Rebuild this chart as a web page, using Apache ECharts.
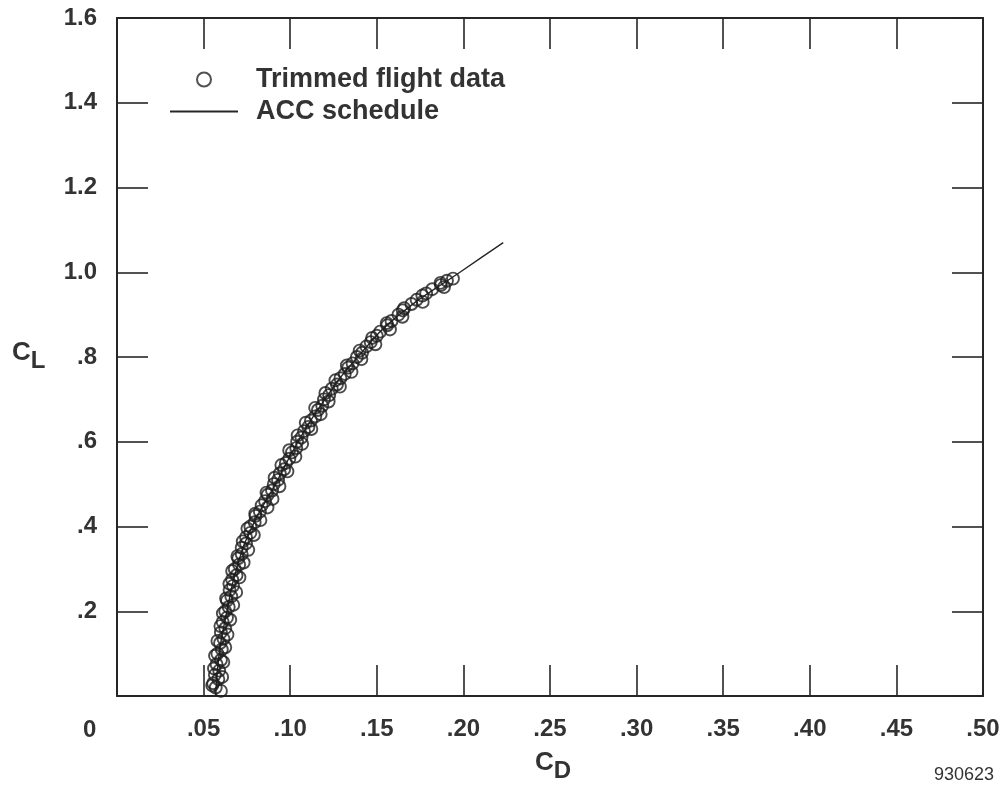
<!DOCTYPE html>
<html>
<head>
<meta charset="utf-8">
<script src="https://cdn.jsdelivr.net/npm/echarts@6/dist/echarts.min.js"></script>
<style>
html,body{margin:0;padding:0;background:#fff;}
#chart{width:1003px;height:790px;}
</style>
</head>
<body>
<div id="chart"></div>
<script>
// ACC schedule (line): CD vs CL
const scheduleCD = [0.057, 0.059, 0.0635, 0.069, 0.078, 0.0915, 0.1045, 0.120, 0.139, 0.163, 0.198, 0.223];
const scheduleCL = [0.0, 0.1, 0.2, 0.3, 0.4, 0.5, 0.6, 0.7, 0.8, 0.9, 1.0, 1.07];

// Trimmed flight data (circles)
const flightCD = [0.0570,0.0555,0.0585,0.0565,0.0590,0.0575,0.0600,0.0580,0.0605,0.0595,
  0.0615,0.0600,0.0625,0.0610,0.0635,0.0625,0.0645,0.0635,0.0660,0.0650,
  0.0670,0.0665,0.0690,0.0680,0.0705,0.0700,0.0720,0.0720,0.0745,0.0745,
  0.0770,0.0770,0.0795,0.0800,0.0825,0.0835,0.0855,0.0870,0.0895,0.0905,
  0.0930,0.0940,0.0965,0.0975,0.0995,0.1010,0.1035,0.1040,0.1065,0.1080,
  0.1105,0.1120,0.1145,0.1160,0.1185,0.1195,0.1225,0.1240,0.1270,0.1290,
  0.1315,0.1335,0.1360,0.1385,0.1415,0.1440,0.1465,0.1500,0.1520,0.1560,
  0.1585,0.1625,0.1650,0.1700,0.1730,0.1785,0.1820,0.1870,0.1905,0.1940,
  0.0600,0.0550,0.0607,0.0560,0.0614,0.0566,0.0625,0.0580,0.0638,0.0597,
  0.0654,0.0611,0.0671,0.0630,0.0688,0.0649,0.0707,0.0665,0.0731,0.0695,
  0.0758,0.0726,0.0790,0.0753,0.0828,0.0798,0.0869,0.0898,0.0863,0.0938,
  0.0910,0.0984,0.0949,0.1030,0.0994,0.1069,0.1043,0.1122,0.1090,0.1176,
  0.1144,0.1222,0.1203,0.1287,0.1261,0.1354,0.1327,0.1411,0.1401,0.1492,
  0.1473,0.1576,0.1557,0.1648,0.1658,0.1765,0.1763,0.1888,0.1868];
const flightCL = [0.020,0.030,0.040,0.050,0.060,0.075,0.085,0.100,0.110,0.125,
  0.135,0.150,0.160,0.175,0.185,0.200,0.210,0.225,0.235,0.250,
  0.260,0.275,0.285,0.300,0.310,0.325,0.335,0.350,0.360,0.375,
  0.385,0.400,0.410,0.425,0.435,0.450,0.460,0.475,0.485,0.500,
  0.510,0.525,0.535,0.550,0.560,0.575,0.585,0.600,0.610,0.625,
  0.635,0.650,0.660,0.675,0.685,0.700,0.710,0.725,0.735,0.750,
  0.760,0.775,0.785,0.800,0.810,0.825,0.835,0.850,0.860,0.875,
  0.885,0.900,0.910,0.925,0.935,0.950,0.960,0.970,0.980,0.985,
  0.012,0.025,0.045,0.065,0.080,0.095,0.115,0.130,0.145,0.165,
  0.180,0.195,0.215,0.230,0.245,0.265,0.280,0.295,0.315,0.330,
  0.345,0.365,0.380,0.395,0.415,0.430,0.445,0.465,0.480,0.495,
  0.515,0.530,0.545,0.565,0.580,0.595,0.615,0.630,0.645,0.665,
  0.680,0.695,0.715,0.730,0.745,0.765,0.780,0.795,0.815,0.830,
  0.845,0.865,0.880,0.895,0.915,0.930,0.945,0.965,0.975];

const xTicks = [0, 0.05, 0.10, 0.15, 0.20, 0.25, 0.30, 0.35, 0.40, 0.45, 0.50];
const yTicks = [0, 0.2, 0.4, 0.6, 0.8, 1.0, 1.2, 1.4, 1.6];

const ink = '#262626';
const textCol = '#333';
const font = 'Liberation Sans, Arial, Helvetica, sans-serif';

function fmtX(v){
  if (Math.abs(v) < 1e-9) return '';
  return '.' + Math.round(v*100).toString().padStart(2,'0');
}
function fmtY(v){
  if (Math.abs(v) < 1e-9) return '';
  if (v >= 1 - 1e-9) return v.toFixed(1);
  return '.' + Math.round(v*10);
}

const chart = echarts.init(document.getElementById('chart'), null, {renderer:'canvas'});
const axisLine = {show:true, onZero:false, lineStyle:{color:ink, width:2}};
const axisTick = {show:true, inside:true, length:31, lineStyle:{color:ink, width:1.6}};
const labelStyle = {fontFamily:font, fontWeight:'bold', fontSize:24, color:textCol};

chart.setOption({
  animation:false,
  backgroundColor:'#fff',
  grid:{left:117, top:18, right:20, bottom:94, containLabel:false},
  xAxis:[
    {type:'value', min:0, max:0.5, interval:0.05, position:'bottom',
     axisLine, axisTick, splitLine:{show:false},
     axisLabel:Object.assign({margin:21, formatter:fmtX, showMinLabel:true, showMaxLabel:true}, labelStyle)},
    {type:'value', min:0, max:0.5, interval:0.05, position:'top',
     axisLine, axisTick, splitLine:{show:false}, axisLabel:{show:false}}
  ],
  yAxis:[
    {type:'value', min:0, max:1.6, interval:0.2, position:'left',
     axisLine, axisTick, splitLine:{show:false},
     axisLabel:Object.assign({margin:20, formatter:fmtY}, labelStyle)},
    {type:'value', min:0, max:1.6, interval:0.2, position:'right',
     axisLine, axisTick, splitLine:{show:false}, axisLabel:{show:false}}
  ],
  legend:{
    orient:'vertical', left:164, top:61, itemWidth:68, itemHeight:14, itemGap:5,
    textStyle:{fontFamily:font, fontWeight:'bold', fontSize:27, color:textCol, padding:[0,0,0,13]},
    data:[
      {name:'Trimmed flight data', icon:'circle', itemStyle:{color:'transparent', borderColor:ink, borderWidth:2}},
      {name:'ACC schedule', itemStyle:{opacity:0}}
    ]
  },
  series:[
    {name:'ACC schedule', type:'line', symbol:'none', smooth:true,
     lineStyle:{color:ink, width:1.4}, itemStyle:{color:ink}, z:1,
     data:scheduleCD.map((d,i)=>[d, scheduleCL[i]])},
    {name:'Trimmed flight data', type:'scatter', symbol:'circle', symbolSize:12,
     itemStyle:{color:'transparent', borderColor:'#1e1e1e', borderWidth:1.9}, z:2,
     data:flightCD.map((d,i)=>[d, flightCL[i]])}
  ],
  graphic:[
    {type:'text', left:83, top:718, style:{text:'0', font:'bold 24px '+font, fill:textCol}},
    {type:'text', left:12, top:340, style:{text:'{c|C}{s|L}', rich:{
      c:{fontFamily:font, fontWeight:'bold', fontSize:26, fill:textCol, color:textCol},
      s:{fontFamily:font, fontWeight:'bold', fontSize:24, fill:textCol, color:textCol, padding:[16,0,0,0]}}}},
    {type:'text', left:535, top:750, style:{text:'{c|C}{s|D}', rich:{
      c:{fontFamily:font, fontWeight:'bold', fontSize:26, fill:textCol, color:textCol},
      s:{fontFamily:font, fontWeight:'bold', fontSize:24, fill:textCol, color:textCol, padding:[16,0,0,0]}}}},
    {type:'text', left:934, top:766, style:{text:'930623', font:'18px '+font, fill:textCol}}
  ]
});
</script>
</body>
</html>
